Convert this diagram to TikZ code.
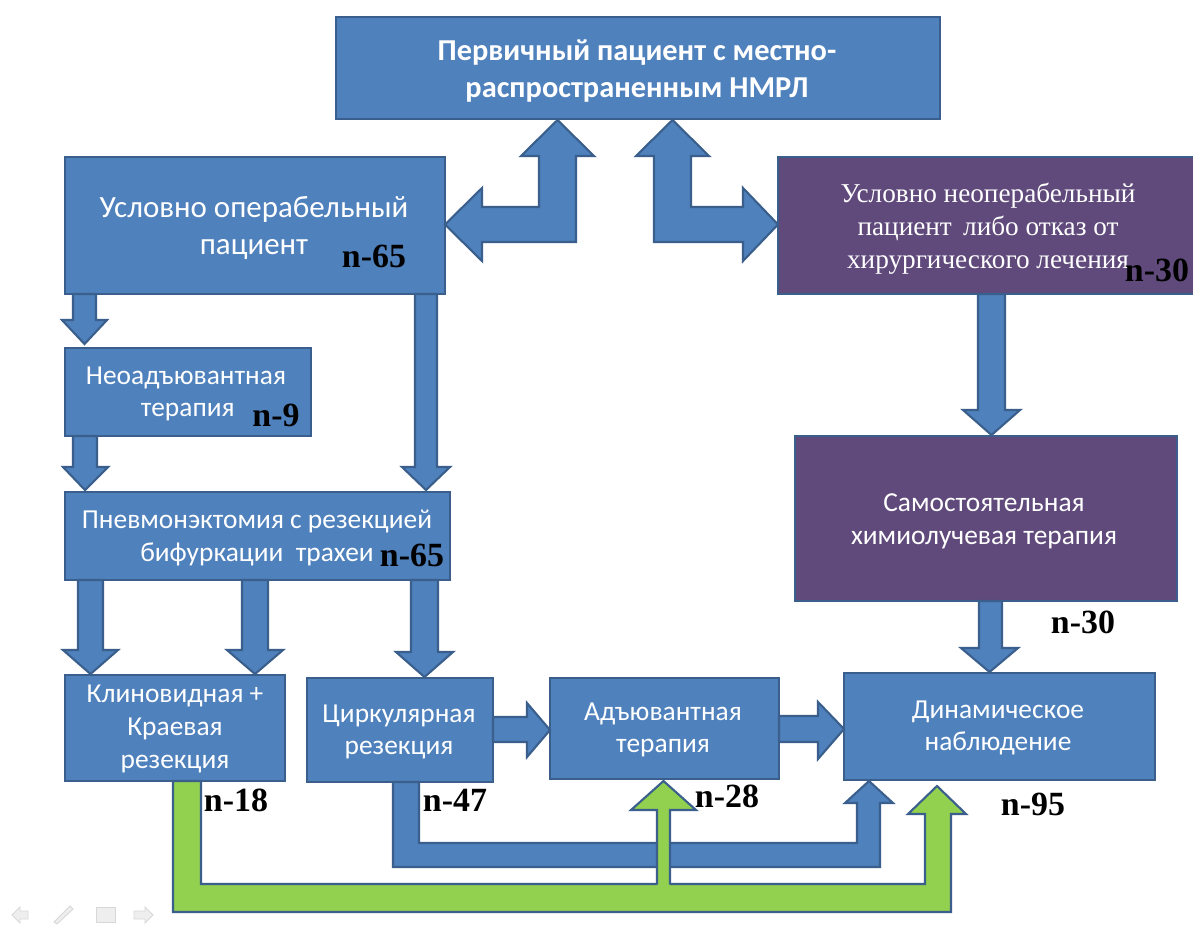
\documentclass[tikz,border=0pt]{standalone}
\usepackage{fontspec}
\setmainfont{Liberation Serif}
\newfontfamily\calfont{Carlito}
\usetikzlibrary{fit}
\definecolor{boxblue}{HTML}{4F81BD}
\definecolor{edgeblue}{HTML}{3A5F8C}
\definecolor{boxpurple}{HTML}{604A7B}
\definecolor{arrowgreen}{HTML}{92D050}
\definecolor{iconfill}{HTML}{EEEEEE}
\definecolor{iconedge}{HTML}{D8D8D8}
\tikzset{
  boxbase/.style={draw=edgeblue, line width=1.2pt, inner sep=0pt, outer sep=0pt},
  bluebox/.style={boxbase, fill=boxblue},
  purplebox/.style={boxbase, fill=boxpurple},
  blockarrow/.style={draw=edgeblue, line width=1.2pt, fill=boxblue, line join=miter},
  greenarrow/.style={draw=edgeblue, line width=1.2pt, fill=arrowgreen, line join=miter},
  navicon/.style={draw=iconedge, fill=iconfill, line width=0.5pt},
  wtext/.style={text=white, align=center, inner sep=0pt},
  sansbig/.style={wtext, font=\calfont\fontsize{17.6}{21}\selectfont},
  sansmid/.style={wtext, font=\calfont\fontsize{15.6}{18.6}\selectfont},
  serifw/.style={wtext, font=\fontsize{15.5}{18.8}\selectfont},
  nlabel/.style={text=black, inner sep=0pt, font=\bfseries\fontsize{19.3}{19}\selectfont}
}
\begin{document}
\begin{tikzpicture}[x=0.02cm,y=-0.02cm]
\useasboundingbox (0,0) rectangle (1193,924);
\fill[white] (0,0) rectangle (1193,924);

% ---------- boxes ----------
\node[bluebox, fit={(336,17) (940,119)}] (top) {};
\node[bluebox, fit={(65,157) (445,294)}] (oper) {};
\node[purplebox, fit={(778,157) (1200,294)}] (inop) {};
\node[bluebox, fit={(65,348) (311,436)}] (neo) {};
\node[bluebox, fit={(65,492) (450,580)}] (pneu) {};
\node[bluebox, fit={(65,675) (285,781)}] (klin) {};
\node[bluebox, fit={(307,678) (493,782)}] (circ) {};
\node[bluebox, fit={(550,678) (779,779)}] (adj) {};
\node[bluebox, fit={(844,673) (1155,780)}] (dyn) {};
\node[purplebox, fit={(795,436) (1177,601)}] (samo) {};

% ---------- texts ----------
\node[sansbig, font=\calfont\bfseries\fontsize{17.3}{21}\selectfont] (topT) at (637,71) {Первичный пациент с местно-\\распространенным НМРЛ};
\node[sansbig] (operT) at (254,228) {Условно операбельный\\пациент};
\node[serifw] (inopT) at (988,229) {Условно неоперабельный\\пациент\, либо отказ от\\хирургического лечения};
\node[sansmid] (neoT) at (186,394) {Неоадъювантная\\\hspace*{2pt}терапия};
\node[sansmid] (pneuT) at (257,538) {Пневмонэктомия с резекцией\\бифуркации\ \ трахеи};
\node[sansmid] (klinT) at (175,729) {Клиновидная +\\Краевая\\резекция};
\node[sansmid] (circT) at (399,732) {Циркулярная\\резекция};
\node[sansmid] (adjT) at (663,730) {Адъювантная\\терапия};
\node[sansmid] (dynT) at (998,728) {Динамическое\\наблюдение};
\node[sansmid] (samoT) at (984,521) {Самостоятельная\\химиолучевая терапия};

% ---------- n labels ----------
\node[nlabel] (n1) at (374,256) {n-65};
\node[nlabel] (n2) at (1157,270) {n-30};
\node[nlabel] (n3) at (276,415) {n-9};
\node[nlabel] (n4) at (412,555) {n-65};
\node[nlabel] (n5) at (1083,622) {n-30};
\node[nlabel] (n6) at (236,800) {n-18};
\node[nlabel] (n7) at (455,800) {n-47};
\node[nlabel] (n8) at (727,796) {n-28};
\node[nlabel] (n9) at (1033,804) {n-95};

% ---------- straight block arrows ----------
% oper -> neo
\draw[blockarrow] (73,294) -- (73,320) -- (62,320) -- (84.5,344) -- (107,320) -- (96,320) -- (96,294) -- cycle;
% neo -> pneu
\draw[blockarrow] (73,436) -- (73,467) -- (63,467) -- (85,490) -- (108,467) -- (97,467) -- (97,436) -- cycle;
% oper -> pneu
\draw[blockarrow] (415,294) -- (415,467) -- (402,467) -- (426,490) -- (450,467) -- (437,467) -- (437,294) -- cycle;
% pneu -> klin (two)
\draw[blockarrow] (78,580) -- (78,650) -- (63,650) -- (90.5,674) -- (118,650) -- (103,650) -- (103,580) -- cycle;
\draw[blockarrow] (242,580) -- (242,650) -- (227,650) -- (255,674) -- (283,650) -- (268,650) -- (268,580) -- cycle;
% pneu -> circ
\draw[blockarrow] (411,580) -- (411,652) -- (396,652) -- (424.5,677) -- (453,652) -- (438,652) -- (438,580) -- cycle;
% circ -> adj
\draw[blockarrow] (493,717) -- (527,717) -- (527,703) -- (550,730) -- (527,757) -- (527,742) -- (493,742) -- cycle;
% adj -> dyn
\draw[blockarrow] (779,716) -- (818,716) -- (818,702) -- (844,729) -- (818,759) -- (818,742) -- (779,742) -- cycle;
% inop -> samo
\draw[blockarrow] (978,294) -- (978,410) -- (963,410) -- (991.5,435) -- (1020,410) -- (1005,410) -- (1005,294) -- cycle;
% samo -> dyn
\draw[blockarrow] (979,601) -- (979,648) -- (961,648) -- (989.5,672) -- (1018,648) -- (1002,648) -- (1002,601) -- cycle;

% ---------- bent double arrows from top ----------
\draw[blockarrow] (557.5,120) -- (594,156) -- (576,156) -- (576,242) -- (482,242) -- (482,261) -- (445,224.5)
  -- (482,188) -- (482,207) -- (539,207) -- (539,156) -- (521,156) -- cycle;
\draw[blockarrow] (672.5,120) -- (709,156) -- (691,156) -- (691,207) -- (743,207) -- (743,188) -- (778,224.5)
  -- (743,261) -- (743,242) -- (654,242) -- (654,156) -- (636,156) -- cycle;

% ---------- bottom feedback arrows ----------
% circ -> dyn (blue)
\draw[blockarrow] (393,782) -- (419,782) -- (419,843) -- (857,843) -- (857,803) -- (845,803) -- (869,781)
  -- (893,803) -- (880,803) -- (880,867) -- (393,867) -- cycle;
% klin -> dyn (green)
\draw[greenarrow] (173,781) -- (201,781) -- (201,884) -- (925,884) -- (925,814) -- (908,814) -- (937,786)
  -- (966,814) -- (951,814) -- (951,912) -- (173,912) -- cycle;
% green branch -> adj
\fill[arrowgreen] (657,886) -- (657,810) -- (631,810) -- (663.5,781) -- (696,810) -- (670,810) -- (670,886) -- cycle;
\draw[edgeblue, line width=1.2pt, line join=miter] (657,884.6) -- (657,810) -- (631,810) -- (663.5,781) -- (696,810) -- (670,810) -- (670,884.6);

% ---------- faint slide-show controls ----------
\draw[navicon] (12,915) -- (20,907) -- (20,911) -- (28,911) -- (28,919) -- (20,919) -- (20,923) -- cycle;
\draw[navicon] (54,922) -- (70,906) -- (73,909) -- (57,924) -- cycle;
\draw[navicon] (96,907) rectangle (115,922);
\draw[navicon] (153,915) -- (145,907) -- (145,911) -- (134,911) -- (134,919) -- (145,919) -- (145,923) -- cycle;
\end{tikzpicture}
\end{document}
